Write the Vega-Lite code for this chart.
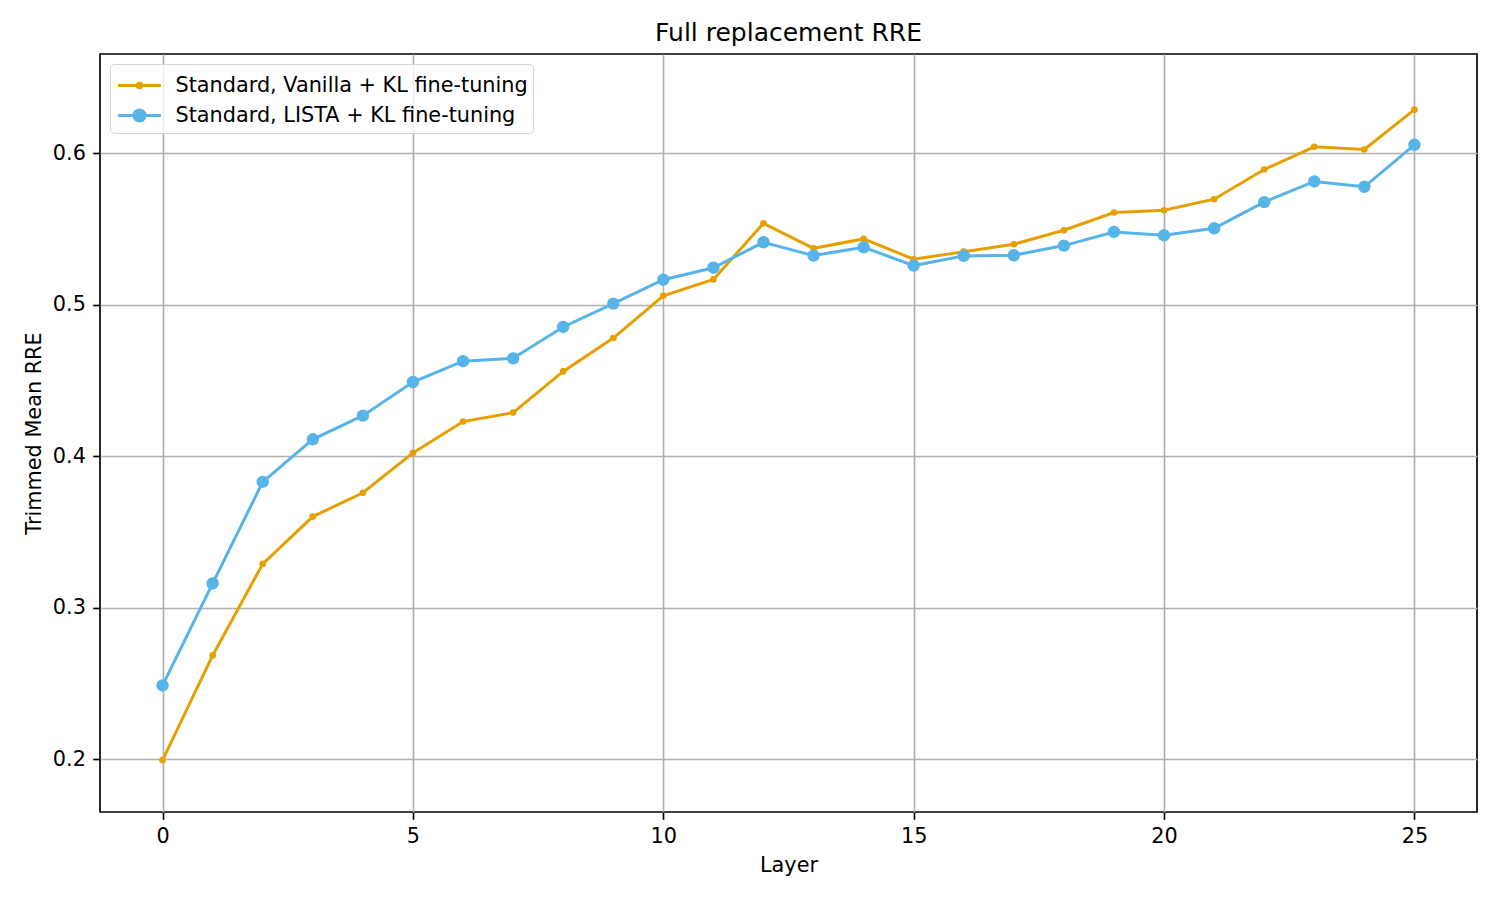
{
  "$schema": "https://vega.github.io/schema/vega-lite/v6.json",
  "width": 1377,
  "height": 758,
  "autosize": {"type": "none"},
  "padding": {"left": 100, "top": 54, "right": 23, "bottom": 88},
  "background": "white",
  "title": {"text": "Full replacement RRE", "fontSize": 25, "font": "DejaVu Sans", "fontWeight": "normal", "color": "black", "offset": 12.5, "baseline": "alphabetic", "anchor": "middle", "dy": 24.5},
  "config": {
    "font": "DejaVu Sans",
    "view": {"stroke": "black", "strokeWidth": 1.67},
    "axis": {
      "domain": false,
      "grid": true,
      "gridColor": "#b0b0b0",
      "gridWidth": 1.67,
      "ticks": true,
      "tickColor": "black",
      "tickWidth": 1.67,
      "tickSize": 7.3,
      "labelPadding": 7.3,
      "labelFont": "DejaVu Sans",
      "labelFontSize": 20.8,
      "labelColor": "black",
      "titleFont": "DejaVu Sans",
      "titleFontSize": 20.8,
      "titleFontWeight": "normal",
      "titleColor": "black"
    }
  },
  "data": {"values": [
    {"layer": 0, "series": "Standard, Vanilla + KL fine-tuning", "rre": 0.1995},
    {"layer": 1, "series": "Standard, Vanilla + KL fine-tuning", "rre": 0.2686},
    {"layer": 2, "series": "Standard, Vanilla + KL fine-tuning", "rre": 0.329},
    {"layer": 3, "series": "Standard, Vanilla + KL fine-tuning", "rre": 0.3602},
    {"layer": 4, "series": "Standard, Vanilla + KL fine-tuning", "rre": 0.3759},
    {"layer": 5, "series": "Standard, Vanilla + KL fine-tuning", "rre": 0.4022},
    {"layer": 6, "series": "Standard, Vanilla + KL fine-tuning", "rre": 0.4229},
    {"layer": 7, "series": "Standard, Vanilla + KL fine-tuning", "rre": 0.4288},
    {"layer": 8, "series": "Standard, Vanilla + KL fine-tuning", "rre": 0.456},
    {"layer": 9, "series": "Standard, Vanilla + KL fine-tuning", "rre": 0.478},
    {"layer": 10, "series": "Standard, Vanilla + KL fine-tuning", "rre": 0.5059},
    {"layer": 11, "series": "Standard, Vanilla + KL fine-tuning", "rre": 0.5167},
    {"layer": 12, "series": "Standard, Vanilla + KL fine-tuning", "rre": 0.5537},
    {"layer": 13, "series": "Standard, Vanilla + KL fine-tuning", "rre": 0.5372},
    {"layer": 14, "series": "Standard, Vanilla + KL fine-tuning", "rre": 0.5434},
    {"layer": 15, "series": "Standard, Vanilla + KL fine-tuning", "rre": 0.53},
    {"layer": 16, "series": "Standard, Vanilla + KL fine-tuning", "rre": 0.535},
    {"layer": 17, "series": "Standard, Vanilla + KL fine-tuning", "rre": 0.5399},
    {"layer": 18, "series": "Standard, Vanilla + KL fine-tuning", "rre": 0.5491},
    {"layer": 19, "series": "Standard, Vanilla + KL fine-tuning", "rre": 0.5608},
    {"layer": 20, "series": "Standard, Vanilla + KL fine-tuning", "rre": 0.5623},
    {"layer": 21, "series": "Standard, Vanilla + KL fine-tuning", "rre": 0.5696},
    {"layer": 22, "series": "Standard, Vanilla + KL fine-tuning", "rre": 0.5892},
    {"layer": 23, "series": "Standard, Vanilla + KL fine-tuning", "rre": 0.6042},
    {"layer": 24, "series": "Standard, Vanilla + KL fine-tuning", "rre": 0.6024},
    {"layer": 25, "series": "Standard, Vanilla + KL fine-tuning", "rre": 0.6287},
    {"layer": 0, "series": "Standard, LISTA + KL fine-tuning", "rre": 0.2488},
    {"layer": 1, "series": "Standard, LISTA + KL fine-tuning", "rre": 0.3161},
    {"layer": 2, "series": "Standard, LISTA + KL fine-tuning", "rre": 0.3831},
    {"layer": 3, "series": "Standard, LISTA + KL fine-tuning", "rre": 0.4112},
    {"layer": 4, "series": "Standard, LISTA + KL fine-tuning", "rre": 0.4268},
    {"layer": 5, "series": "Standard, LISTA + KL fine-tuning", "rre": 0.449},
    {"layer": 6, "series": "Standard, LISTA + KL fine-tuning", "rre": 0.4627},
    {"layer": 7, "series": "Standard, LISTA + KL fine-tuning", "rre": 0.4646},
    {"layer": 8, "series": "Standard, LISTA + KL fine-tuning", "rre": 0.4853},
    {"layer": 9, "series": "Standard, LISTA + KL fine-tuning", "rre": 0.5007},
    {"layer": 10, "series": "Standard, LISTA + KL fine-tuning", "rre": 0.5165},
    {"layer": 11, "series": "Standard, LISTA + KL fine-tuning", "rre": 0.5244},
    {"layer": 12, "series": "Standard, LISTA + KL fine-tuning", "rre": 0.5412},
    {"layer": 13, "series": "Standard, LISTA + KL fine-tuning", "rre": 0.5324},
    {"layer": 14, "series": "Standard, LISTA + KL fine-tuning", "rre": 0.5379},
    {"layer": 15, "series": "Standard, LISTA + KL fine-tuning", "rre": 0.5258},
    {"layer": 16, "series": "Standard, LISTA + KL fine-tuning", "rre": 0.5322},
    {"layer": 17, "series": "Standard, LISTA + KL fine-tuning", "rre": 0.5326},
    {"layer": 18, "series": "Standard, LISTA + KL fine-tuning", "rre": 0.539},
    {"layer": 19, "series": "Standard, LISTA + KL fine-tuning", "rre": 0.548},
    {"layer": 20, "series": "Standard, LISTA + KL fine-tuning", "rre": 0.5458},
    {"layer": 21, "series": "Standard, LISTA + KL fine-tuning", "rre": 0.5504},
    {"layer": 22, "series": "Standard, LISTA + KL fine-tuning", "rre": 0.5677},
    {"layer": 23, "series": "Standard, LISTA + KL fine-tuning", "rre": 0.5813},
    {"layer": 24, "series": "Standard, LISTA + KL fine-tuning", "rre": 0.5778},
    {"layer": 25, "series": "Standard, LISTA + KL fine-tuning", "rre": 0.6055}
  ]},
  "encoding": {
    "x": {"field": "layer", "type": "quantitative", "title": "Layer",
      "scale": {"domain": [-1.25, 26.25], "nice": false, "zero": false},
      "axis": {"values": [0, 5, 10, 15, 20, 25], "titlePadding": 9}},
    "y": {"field": "rre", "type": "quantitative", "title": "Trimmed Mean RRE",
      "scale": {"domain": [0.1653, 0.6654], "nice": false, "zero": false},
      "axis": {"values": [0.2, 0.3, 0.4, 0.5, 0.6], "format": ".1f", "titlePadding": 8}},
    "color": {"field": "series", "type": "nominal",
      "scale": {"domain": ["Standard, Vanilla + KL fine-tuning", "Standard, LISTA + KL fine-tuning"], "range": ["#E69F00", "#56B4E9"]},
      "legend": {
        "title": null,
        "orient": "top-left",
        "offset": 10,
        "padding": 5,
        "rowPadding": 3,
        "strokeColor": "#d5d5d5",
        "fillColor": "rgba(255,255,255,0.8)",
        "cornerRadius": 4,
        "labelFont": "DejaVu Sans",
        "labelFontSize": 20.8,
        "labelColor": "black",
        "labelLimit": 0,
        "labelOffset": 19.5,
        "symbolSize": 900,
        "symbolOffset": 8,
        "symbolStrokeWidth": 3,
        "symbolType": "M-1.43,0L1.43,0",
        "encode": {
          "symbols": {
            "update": {
              "shape": {"signal": "datum.value === 'Standard, LISTA + KL fine-tuning' ? 'M-1.43,0L1.43,0M0.37,0A0.37,0.37,0,1,1,-0.37,0A0.37,0.37,0,1,1,0.37,0Z' : 'M-1.43,0L1.43,0M0.15,0A0.15,0.15,0,1,1,-0.15,0A0.15,0.15,0,1,1,0.15,0Z'"},
              "fill": {"signal": "datum.value === 'Standard, LISTA + KL fine-tuning' ? '#56B4E9' : '#E69F00'"},
              "stroke": {"signal": "datum.value === 'Standard, LISTA + KL fine-tuning' ? '#56B4E9' : '#E69F00'"},
              "strokeWidth": {"value": 3},
              "opacity": {"value": 1},
              "fillOpacity": {"value": 1}
            }
          }
        }
      }
    }
  },
  "layer": [
    {"transform": [{"filter": "datum.series === 'Standard, Vanilla + KL fine-tuning'"}],
     "mark": {"type": "line", "strokeWidth": 3}},
    {"transform": [{"filter": "datum.series === 'Standard, Vanilla + KL fine-tuning'"}],
     "mark": {"type": "point", "filled": true, "opacity": 1, "size": 44, "shape": "circle"}},
    {"transform": [{"filter": "datum.series === 'Standard, LISTA + KL fine-tuning'"}],
     "mark": {"type": "line", "strokeWidth": 3}},
    {"transform": [{"filter": "datum.series === 'Standard, LISTA + KL fine-tuning'"}],
     "mark": {"type": "point", "filled": true, "opacity": 1, "size": 154, "shape": "circle"}}
  ]
}
